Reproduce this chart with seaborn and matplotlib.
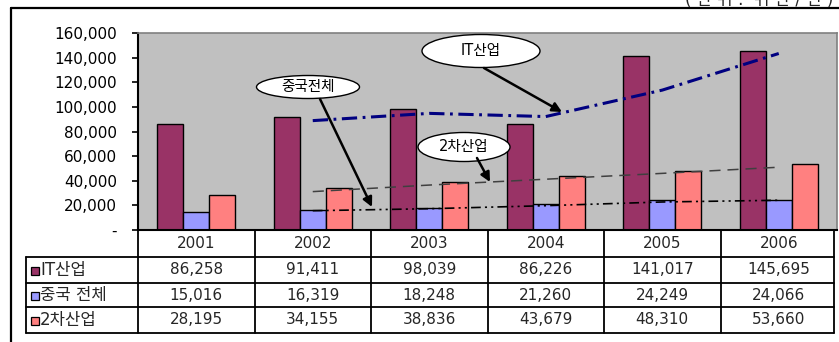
import matplotlib
matplotlib.use("Agg")
import matplotlib.pyplot as plt
import numpy as np
import pandas as pd
import seaborn as sns
from matplotlib.patches import Ellipse, Rectangle
from matplotlib.lines import Line2D
from matplotlib.ticker import FuncFormatter, MultipleLocator

# ---- data -------------------------------------------------------------
years = ["2001", "2002", "2003", "2004", "2005", "2006"]
series_names = ["IT산업", "중국 전체", "2차산업"]
it_values = [86258, 91411, 98039, 86226, 141017, 145695]
china_values = [15016, 16319, 18248, 21260, 24249, 24066]
secondary_values = [28195, 34155, 38836, 43679, 48310, 53660]
callout_labels = ["IT산업", "중국전체", "2차산업"]
unit_label = "( 단 위 :  위 안 / 인 )"

bar_colors = ["#993366", "#9999FF", "#FF8080"]

# ---- style ------------------------------------------------------------
sns.set_theme(style="white")
plt.rcParams["font.family"] = ["DejaVu Sans", "Noto Sans CJK KR"]
plt.rcParams["lines.scale_dashes"] = False

NUM_FS = 11
W, H = 839, 342
fig = plt.figure(figsize=(W / 100, H / 100), dpi=100)
fig.patch.set_facecolor("white")

# plot area in pixel coordinates
L, R, T, B = 138, 837, 33, 230
ax = fig.add_axes([L / W, 1 - B / H, (R - L) / W, (B - T) / H])
ax.set_facecolor("#C0C0C0")

df = pd.DataFrame({
    "year": years * 3,
    "series": np.repeat(series_names, len(years)),
    "value": it_values + china_values + secondary_values,
})
sns.barplot(data=df, x="year", y="value", hue="series", order=years,
            hue_order=series_names, palette=bar_colors, saturation=1,
            width=0.67, edgecolor="black", linewidth=1.0, ax=ax,
            legend=False)

ax.set_xlim(-0.5, len(years) - 0.5)
ax.set_ylim(0, 160000)
ax.yaxis.set_major_locator(MultipleLocator(20000))
ax.yaxis.set_major_formatter(
    FuncFormatter(lambda v, _: "-" if v == 0 else f"{int(v):,}"))
ax.set_xlabel("")
ax.set_ylabel("")
ax.set_xticks([])
ax.tick_params(axis="y", left=True, length=4, width=1.2, color="black",
               pad=11, labelsize=NUM_FS, labelcolor="black")
for side in ("top", "right"):
    ax.spines[side].set_color("#808080")
    ax.spines[side].set_linewidth(1.2)
ax.spines["left"].set_color("black")
ax.spines["left"].set_linewidth(1.5)
ax.spines["bottom"].set_color("black")
ax.spines["bottom"].set_linewidth(1.5)

# ---- 2-period moving-average trendlines ---------------------------------
xs = np.arange(len(years))
ma_it = pd.Series(it_values).rolling(2).mean().to_numpy()
ma_cn = pd.Series(china_values).rolling(2).mean().to_numpy()
ma_sec = pd.Series(secondary_values).rolling(2).mean().to_numpy()
ax.plot(xs[1:], ma_it[1:], color="#000080", lw=2.2,
        dashes=(11, 4, 2, 4))
ax.plot(xs[1:], ma_sec[1:], color="#404040", lw=1.1, dashes=(8, 5))
ax.plot(xs[1:], ma_cn[1:], color="black", lw=1.2,
        dashes=(7, 3, 1.5, 3, 1.5, 3))


# ---- callouts ---------------------------------------------------------
def to_data(px, py):
    x = -0.5 + (px - L) / ((R - L) / len(years))
    y = (B - py) / (B - T) * 160000
    return x, y


def callout(text, center, w, h, start, tip, size=10.5):
    cx, cy = to_data(*center)
    dw = w / ((R - L) / len(years))
    dh = h / (B - T) * 160000
    ax.add_patch(Ellipse((cx, cy), dw, dh, facecolor="white",
                         edgecolor="black", lw=1.0, zorder=6))
    ax.text(cx, cy, text, ha="center", va="center", fontsize=size,
            zorder=7, color="black")
    ax.annotate("", xy=to_data(*tip), xytext=to_data(*start),
                arrowprops=dict(arrowstyle="-|>", color="black", lw=1.8,
                                mutation_scale=14, shrinkA=0, shrinkB=0),
                zorder=6)


callout(callout_labels[0], (481, 51), 118, 33, (484, 68), (562, 112))
callout(callout_labels[1], (308, 87), 103, 23, (320, 99), (372, 207))
callout(callout_labels[2], (464, 147), 92, 29, (477, 158), (490, 182))


# ---- data table beneath the axis ----------------------------------------
def fx(px):
    return px / W


def fy(py):
    return 1 - py / H


def hline(y, x0, x1, lw=1.3, color="black"):
    fig.add_artist(Line2D([fx(x0), fx(x1)], [fy(y), fy(y)], lw=lw,
                          color=color, transform=fig.transFigure))


def vline(x, y0, y1, lw=1.3, color="black"):
    fig.add_artist(Line2D([fx(x), fx(x)], [fy(y0), fy(y1)], lw=lw,
                          color=color, transform=fig.transFigure))


TL = 26          # left edge of the legend column
TR = 834         # right edge of the table
row_edges = [230, 257, 283, 307, 333]
col_w = (R - L) / len(years)

for y in row_edges[1:]:
    hline(y, TL, TR)
vline(TL, row_edges[1], row_edges[4])
for k in range(len(years)):
    vline(L + k * col_w, row_edges[0], row_edges[4])
vline(TR, row_edges[0], row_edges[4])

for k, yr in enumerate(years):
    cx = L + (k + 0.5) * col_w
    fig.text(fx(cx), fy((row_edges[0] + row_edges[1]) / 2), yr,
             ha="center", va="center", fontsize=NUM_FS)

table_rows = [it_values, china_values, secondary_values]
for r, (name, vals, col) in enumerate(zip(series_names, table_rows,
                                          bar_colors)):
    ymid = (row_edges[r + 1] + row_edges[r + 2]) / 2
    fig.add_artist(Rectangle((fx(31), fy(ymid + 5)), 8 / W, 8 / H,
                             facecolor=col, edgecolor="black", lw=0.9,
                             transform=fig.transFigure))
    fig.text(fx(40), fy(ymid), name, ha="left", va="center", fontsize=12)
    for k, v in enumerate(vals):
        cx = L + (k + 0.5) * col_w
        fig.text(fx(cx), fy(ymid), f"{v:,}", ha="center", va="center",
                 fontsize=NUM_FS)

# ---- outer frame and unit note -------------------------------------------
fig.add_artist(Line2D([fx(11), fx(11)], [fy(8), fy(H + 2)], lw=1.6,
                      color="black", transform=fig.transFigure))
fig.add_artist(Line2D([fx(11), fx(W + 2)], [fy(8), fy(8)], lw=1.6,
                      color="black", transform=fig.transFigure))
fig.text(fx(833), fy(0), unit_label, ha="right", va="center", fontsize=12)

fig.savefig("out.png", dpi=100, facecolor="white")
